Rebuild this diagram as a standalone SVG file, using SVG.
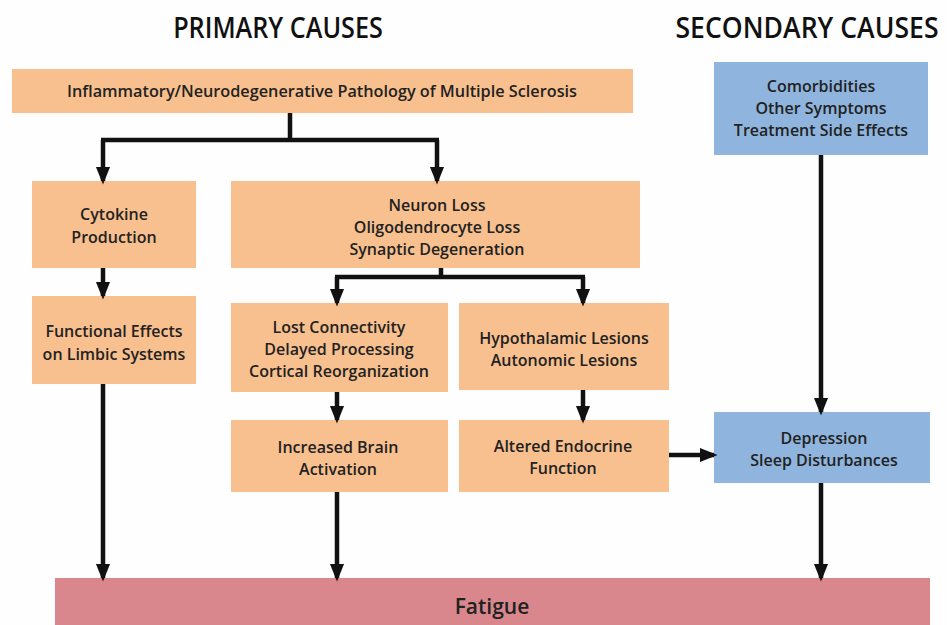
<svg xmlns="http://www.w3.org/2000/svg" width="947" height="625" viewBox="0 0 947 625">
  <defs>
    <marker id="arrow" markerUnits="userSpaceOnUse" markerWidth="18" markerHeight="22" refX="16" refY="8" orient="auto" viewBox="0 0 20 16">
      <path d="M0,0 L20,8 L0,16 Z" fill="#111"/>
    </marker>
    <style>
      .title { font-family: "Open Sans", "Liberation Sans", sans-serif; font-weight: 600; font-size: 28px; fill: #111; text-anchor: middle; }
      .lbl { font-family: "Open Sans", "Liberation Sans", sans-serif; font-weight: 600; font-size: 16px; fill: #222; text-anchor: middle; dominant-baseline: central; }
      .big { font-size: 21px; }
      .orange { fill: #F8C08F; }
      .blue { fill: #8FB5DE; }
      .red { fill: #D9878D; }
      .conn { stroke: #111; stroke-width: 4.5; fill: none; }
    </style>
  </defs>
  <rect width="947" height="625" fill="#fefefe"/>

  <!-- column headings, narrowed horizontally -->
  <text class="title" transform="translate(278,38) scale(0.9,1)">PRIMARY CAUSES</text>
  <text class="title" transform="translate(807,38) scale(0.95,1)">SECONDARY CAUSES</text>

  <g id="ms-pathology">
    <rect class="orange" x="12" y="69" width="621" height="44"/>
    <text class="lbl" x="322" y="91" textLength="510" lengthAdjust="spacingAndGlyphs">Inflammatory/Neurodegenerative Pathology of Multiple Sclerosis</text>
  </g>
  <g id="secondary">
    <rect class="blue" x="714" y="62" width="214" height="93"/>
    <text class="lbl" x="821" y="86">Comorbidities</text>
    <text class="lbl" x="821" y="108">Other Symptoms</text>
    <text class="lbl" x="821" y="130">Treatment Side Effects</text>
  </g>
  <g id="cytokine">
    <rect class="orange" x="32" y="181" width="164" height="87"/>
    <text class="lbl" x="114" y="214">Cytokine</text>
    <text class="lbl" x="114" y="237">Production</text>
  </g>
  <g id="neuron-loss">
    <rect class="orange" x="231" y="181" width="409" height="87"/>
    <text class="lbl" x="437" y="205">Neuron Loss</text>
    <text class="lbl" x="437" y="227">Oligodendrocyte Loss</text>
    <text class="lbl" x="437" y="249">Synaptic Degeneration</text>
  </g>
  <g id="limbic">
    <rect class="orange" x="32" y="296" width="164" height="88"/>
    <text class="lbl" x="114" y="331">Functional Effects</text>
    <text class="lbl" x="114" y="354">on Limbic Systems</text>
  </g>
  <g id="connectivity">
    <rect class="orange" x="231" y="303" width="217" height="89"/>
    <text class="lbl" x="339" y="327">Lost Connectivity</text>
    <text class="lbl" x="339" y="349">Delayed Processing</text>
    <text class="lbl" x="339" y="371">Cortical Reorganization</text>
  </g>
  <g id="lesions">
    <rect class="orange" x="459" y="303" width="210" height="87"/>
    <text class="lbl" x="564" y="338">Hypothalamic Lesions</text>
    <text class="lbl" x="564" y="360">Autonomic Lesions</text>
  </g>
  <g id="brain-activation">
    <rect class="orange" x="231" y="420" width="217" height="72"/>
    <text class="lbl" x="338" y="447">Increased Brain</text>
    <text class="lbl" x="338" y="469">Activation</text>
  </g>
  <g id="endocrine">
    <rect class="orange" x="459" y="420" width="210" height="72"/>
    <text class="lbl" x="563" y="446">Altered Endocrine</text>
    <text class="lbl" x="563" y="468">Function</text>
  </g>
  <g id="depression">
    <rect class="blue" x="714" y="412" width="216" height="71"/>
    <text class="lbl" x="824" y="438">Depression</text>
    <text class="lbl" x="824" y="460">Sleep Disturbances</text>
  </g>
  <g id="fatigue">
    <rect class="red" x="55" y="578" width="875" height="50"/>
    <text class="lbl big" x="492" y="606">Fatigue</text>
  </g>

  <g id="connectors">
    <path class="conn" d="M290,113 V140 M101,140 H439"/>
    <path class="conn" d="M103,140 V181" marker-end="url(#arrow)"/>
    <path class="conn" d="M437,140 V181" marker-end="url(#arrow)"/>
    <path class="conn" d="M103,268 V296" marker-end="url(#arrow)"/>
    <path class="conn" d="M103,384 V578" marker-end="url(#arrow)"/>
    <path class="conn" d="M441,268 V277 M335,277 H585"/>
    <path class="conn" d="M337,277 V303" marker-end="url(#arrow)"/>
    <path class="conn" d="M583,277 V303" marker-end="url(#arrow)"/>
    <path class="conn" d="M337,392 V420" marker-end="url(#arrow)"/>
    <path class="conn" d="M583,390 V420" marker-end="url(#arrow)"/>
    <path class="conn" d="M337,492 V578" marker-end="url(#arrow)"/>
    <path class="conn" d="M669,455 H714" marker-end="url(#arrow)"/>
    <path class="conn" d="M821,155 V412" marker-end="url(#arrow)"/>
    <path class="conn" d="M821,483 V578" marker-end="url(#arrow)"/>
  </g>
</svg>
